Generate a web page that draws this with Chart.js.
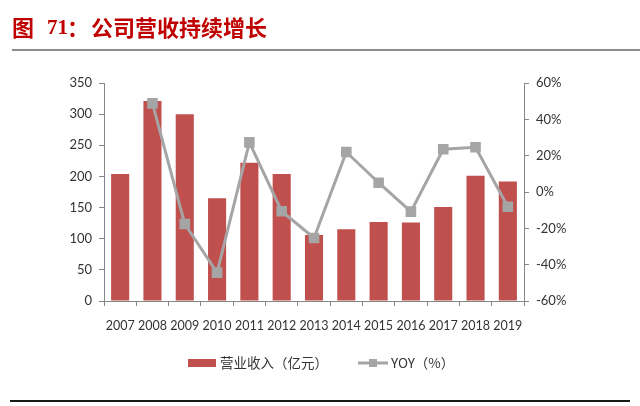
<!DOCTYPE html>
<html>
<head>
<meta charset="utf-8">
<script src="https://cdn.jsdelivr.net/npm/chart.js@4.4.1/dist/chart.umd.min.js"></script>
<style>
html,body{margin:0;padding:0;background:#fff;}
#wrap{position:relative;width:640px;height:406px;}
</style>
</head>
<body>
<div id="wrap"><canvas id="c" width="640" height="406"></canvas></div>
<script>
const years = ['2007','2008','2009','2010','2011','2012','2013','2014','2015','2016','2017','2018','2019'];
const revenue = [204, 321, 300, 165, 222, 204, 106, 115, 127, 126, 151, 201, 192];
const yoy = [null, 48.8, -17.6, -44.4, 27.3, -10.6, -25.3, 22.0, 5.1, -10.8, 23.5, 24.6, -8.1];
const leftTicks = [0, 350, 50];
const rightTicks = [-60, 60, 20];
const revenueLabel = '营业收入（亿元）';
const yoyLabel = 'YOY（%）';
const titleParts = ['图', '71：', '公司营收持续增长'];

const BAR = '#C0504D';
const LINE = '#A5A5A5';
const AXIS = '#868686';
const TXT = '#333333';
const FONT = 'Lato, "Noto Sans", sans-serif';

const deco = {
  id: 'deco',
  afterDraw(chart) {
    const ctx = chart.ctx;
    ctx.save();
    // title
    ctx.fillStyle = '#C00000';
    ctx.textBaseline = 'middle';
    ctx.font = 'bold 22px "Noto Sans CJK SC"';
    ctx.fillText(titleParts[0], 12, 28);
    ctx.font = 'bold 21px "Liberation Serif"';
    ctx.fillText(titleParts[1].slice(0, 2), 47, 29);
    ctx.font = 'bold 22px "Noto Sans CJK SC"';
    ctx.fillText(titleParts[1].slice(2), 67, 28);
    ctx.fillText(titleParts[2], 91, 28);
    // top rule
    ctx.fillStyle = '#8c8c8c';
    ctx.fillRect(12, 49, 628, 2);
    // bottom rule
    ctx.fillStyle = '#1a1a1a';
    ctx.fillRect(10, 400, 620, 2);
    // legend
    const ly = 363;
    ctx.fillStyle = BAR;
    ctx.fillRect(188, ly - 4, 28, 8);
    ctx.fillStyle = TXT;
    ctx.font = '13.5px "Noto Sans CJK SC"';
    ctx.textBaseline = 'middle';
    ctx.fillText(chart.data.datasets[0].label, 220, ly);
    ctx.strokeStyle = LINE;
    ctx.lineWidth = 3;
    ctx.beginPath();
    ctx.moveTo(358, ly);
    ctx.lineTo(388, ly);
    ctx.stroke();
    ctx.fillStyle = LINE;
    ctx.fillRect(369, ly - 4, 8, 8);
    ctx.fillStyle = TXT;
    ctx.fillText(chart.data.datasets[1].label, 391, ly);
    ctx.restore();
  }
};

new Chart(document.getElementById('c'), {
  type: 'bar',
  data: {
    labels: years,
    datasets: [
      {
        type: 'bar',
        label: revenueLabel,
        data: revenue,
        backgroundColor: BAR,
        yAxisID: 'y',
        categoryPercentage: 1,
        barPercentage: 0.56,
        order: 2
      },
      {
        type: 'line',
        label: yoyLabel,
        data: yoy,
        borderColor: LINE,
        backgroundColor: LINE,
        borderWidth: 3,
        pointStyle: 'rect',
        pointRadius: 7.5,
        pointHoverRadius: 7.5,
        pointBorderWidth: 0,
        tension: 0,
        yAxisID: 'y1',
        order: 1
      }
    ]
  },
  options: {
    responsive: false,
    animation: false,
    devicePixelRatio: 1,
    layout: { padding: { top: 83, left: 0, right: 0, bottom: 65 } },
    plugins: { legend: { display: false }, tooltip: { enabled: false } },
    scales: {
      x: {
        offset: true,
        afterFit(s) { s.height = 40; },
        grid: { display: true, offset: true, drawOnChartArea: false, drawTicks: true, tickLength: 5, color: AXIS },
        border: { color: AXIS, width: 1 },
        ticks: { color: TXT, font: { family: FONT, size: 12.5 }, padding: 12, maxRotation: 0, autoSkip: false }
      },
      y: {
        position: 'left',
        min: leftTicks[0], max: leftTicks[1],
        afterFit(s) { s.width = 104; },
        grid: { drawOnChartArea: false, drawTicks: true, tickLength: 5, color: AXIS },
        border: { color: AXIS, width: 1 },
        ticks: { stepSize: leftTicks[2], color: TXT, font: { family: FONT, size: 13 }, padding: 7 }
      },
      y1: {
        position: 'right',
        min: rightTicks[0], max: rightTicks[1],
        afterFit(s) { s.width = 116; },
        grid: { drawOnChartArea: false, drawTicks: true, tickLength: 5, color: AXIS },
        border: { color: AXIS, width: 1 },
        ticks: { stepSize: rightTicks[2], color: TXT, font: { family: FONT, size: 13 }, padding: 7, callback: v => v + '%' }
      }
    }
  },
  plugins: [deco]
});
</script>
</body>
</html>
